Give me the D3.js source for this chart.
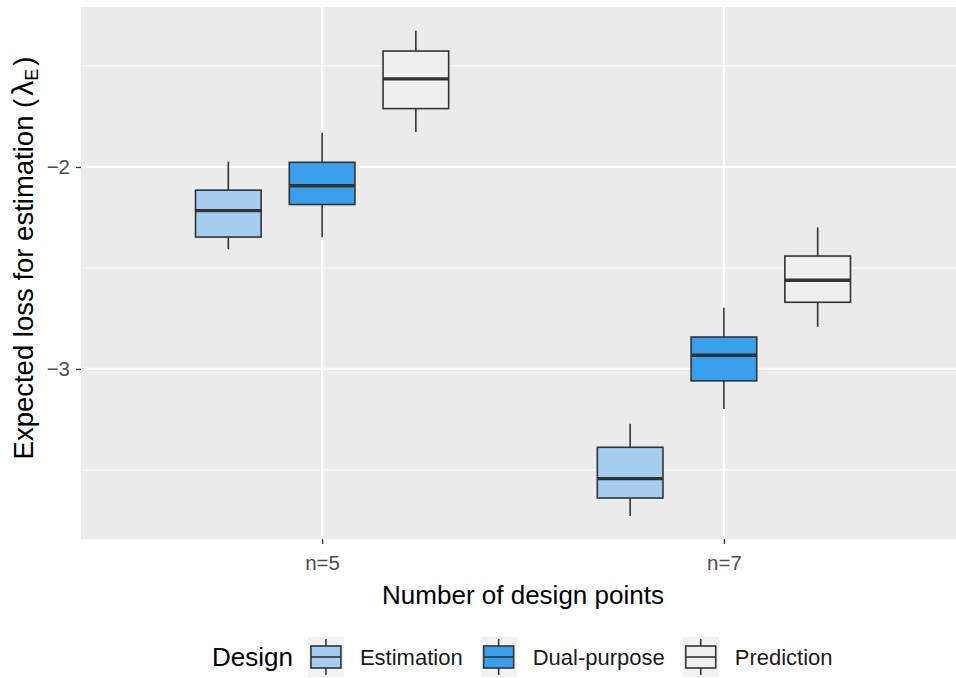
<!DOCTYPE html>
<html><head><meta charset="utf-8">
<script src="https://cdn.jsdelivr.net/npm/d3@7"></script>
<style>body{margin:0;background:#fff}svg{display:block;font-family:"Liberation Sans",Arial,sans-serif}</style>
</head><body><svg id="c" width="956" height="678"></svg>
<script>
const categories = ["n=5", "n=7"];
const designs = ["Estimation", "Dual-purpose", "Prediction"];
// [ymin, lower, middle, upper, ymax] for n=5, n=7
const estimationStats = [[-2.407, -2.347, -2.216, -2.115, -1.974], [-3.728, -3.639, -3.543, -3.388, -3.272]];
const dualStats       = [[-2.348, -2.186, -2.093, -1.977, -1.830], [-3.198, -3.059, -2.932, -2.842, -2.697]];
const predictionStats = [[-1.827, -1.711, -1.564, -1.426, -1.325], [-2.792, -2.670, -2.561, -2.441, -2.299]];
const yTicks = [-3, -2];
const yMinor = [-3.5, -2.5, -1.5];
const fills = ["#a4cdef", "#3a9fed", "#efefef"];

const statsByDesign = [estimationStats, dualStats, predictionStats];
const svg = d3.select("#c");
const P = {l: 81, r: 965, t: 7, b: 539};

const x = d3.scalePoint().domain(categories).range([P.l, P.r]).padding(0.6);
const step = x.step();
const dodge = d3.scaleBand().domain(designs).range([-0.35 * step, 0.35 * step]);
const y = d3.scaleLinear().domain([-3.842, -1.208]).range([P.b, P.t]);
const color = d3.scaleOrdinal().domain(designs).range(fills);

svg.append("defs").append("clipPath").attr("id", "pc")
  .append("rect").attr("x", P.l).attr("y", P.t).attr("width", P.r - P.l).attr("height", P.b - P.t);

const panel = svg.append("g").attr("clip-path", "url(#pc)");
panel.append("rect").attr("x", P.l).attr("y", P.t).attr("width", P.r - P.l).attr("height", P.b - P.t).attr("fill", "#ebebeb");
panel.selectAll(".ymin").data(yMinor).join("line")
  .attr("x1", P.l).attr("x2", P.r).attr("y1", d => y(d)).attr("y2", d => y(d))
  .attr("stroke", "#fff").attr("stroke-width", 1.1);
panel.selectAll(".ymaj").data(yTicks).join("line")
  .attr("x1", P.l).attr("x2", P.r).attr("y1", d => y(d)).attr("y2", d => y(d))
  .attr("stroke", "#fff").attr("stroke-width", 2.2);
panel.selectAll(".xmaj").data(categories).join("line")
  .attr("y1", P.t).attr("y2", P.b).attr("x1", d => x(d)).attr("x2", d => x(d))
  .attr("stroke", "#fff").attr("stroke-width", 2.2);

const boxes = [];
designs.forEach((des, di) => categories.forEach((cat, ci) => {
  const s = statsByDesign[di][ci];
  boxes.push({des, cat, ymin: s[0], lower: s[1], middle: s[2], upper: s[3], ymax: s[4]});
}));
const bw = dodge.bandwidth() * 0.7;
const bg = panel.selectAll(".box").data(boxes).join("g")
  .attr("transform", d => `translate(${x(d.cat) + dodge(d.des) + dodge.bandwidth() / 2},0)`);
bg.append("line").attr("x1", 0).attr("x2", 0).attr("y1", d => y(d.ymax)).attr("y2", d => y(d.upper))
  .attr("stroke", "#333").attr("stroke-width", 1.6);
bg.append("line").attr("x1", 0).attr("x2", 0).attr("y1", d => y(d.lower)).attr("y2", d => y(d.ymin))
  .attr("stroke", "#333").attr("stroke-width", 1.6);
bg.append("rect").attr("x", -bw / 2).attr("width", bw)
  .attr("y", d => y(d.upper)).attr("height", d => y(d.lower) - y(d.upper))
  .attr("fill", d => color(d.des)).attr("stroke", "#333").attr("stroke-width", 1.6);
bg.append("line").attr("x1", -bw / 2).attr("x2", bw / 2).attr("y1", d => y(d.middle)).attr("y2", d => y(d.middle))
  .attr("stroke", "#333").attr("stroke-width", 3.4);

// axes
const yAxis = svg.append("g").attr("transform", `translate(${P.l},0)`)
  .call(d3.axisLeft(y).tickValues(yTicks).tickSize(5).tickPadding(6).tickFormat(d3.format("d")));
const xAxis = svg.append("g").attr("transform", `translate(0,${P.b})`)
  .call(d3.axisBottom(x).tickSize(5).tickPadding(11));
[yAxis, xAxis].forEach(a => {
  a.select(".domain").remove();
  a.selectAll(".tick line").attr("stroke", "#333").attr("stroke-width", 1.3);
  a.selectAll(".tick text").attr("fill", "#4d4d4d").attr("font-size", 20.5).attr("font-family", "Liberation Sans, Arial, sans-serif");
});

svg.append("text").attr("x", (P.l + P.r) / 2).attr("y", 604).attr("text-anchor", "middle")
  .attr("font-size", 26).attr("fill", "#000").text("Number of design points");

const yt = svg.append("text").attr("transform", "translate(33,258) rotate(-90)").attr("text-anchor", "middle")
  .attr("font-size", 27.5).attr("fill", "#000");
yt.append("tspan").text("Expected loss for estimation ");
yt.append("tspan").text("(");
yt.append("tspan").attr("dx", 3).attr("font-size", 30).text("λ");
yt.append("tspan").attr("font-size", 18).attr("dy", 5).text("E");
yt.append("tspan").attr("dx", 3).attr("dy", -5).text(")");

// legend
const lg = svg.append("g");
let lx = 212;
const ly = 657;
const lt = lg.append("text").attr("x", lx).attr("y", ly).attr("dy", "0.35em").attr("font-size", 26).text("Design");
lx += lt.node().getComputedTextLength() + 15;
designs.forEach(des => {
  const k = lg.append("g").attr("transform", `translate(${lx},${ly - 20})`);
  k.append("rect").attr("width", 36).attr("height", 40).attr("fill", "#f2f2f2");
  k.append("line").attr("x1", 18).attr("x2", 18).attr("y1", 2).attr("y2", 38).attr("stroke", "#333").attr("stroke-width", 1.6);
  k.append("rect").attr("x", 3).attr("y", 9).attr("width", 30).attr("height", 22)
    .attr("fill", color(des)).attr("stroke", "#333").attr("stroke-width", 1.6);
  k.append("line").attr("x1", 3).attr("x2", 33).attr("y1", 20).attr("y2", 20).attr("stroke", "#333").attr("stroke-width", 1.6);
  lx += 36 + 16;
  const t = lg.append("text").attr("x", lx).attr("y", ly).attr("dy", "0.35em").attr("font-size", 22).attr("fill", "#1a1a1a").text(des);
  lx += t.node().getComputedTextLength() + 18;
});
</script></body></html>
